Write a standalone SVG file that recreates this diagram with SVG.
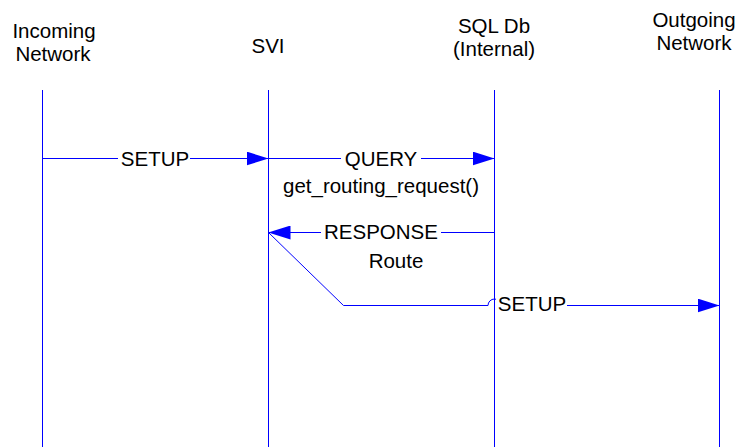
<svg xmlns="http://www.w3.org/2000/svg" width="741" height="447" viewBox="0 0 741 447">
<style>
text{font-family:"Liberation Sans",Arial,sans-serif;font-size:20.5px;fill:#000;text-anchor:middle}
.life{stroke:#0000FF;stroke-width:1;fill:none}
.msg{stroke:#0000FF;stroke-width:1;fill:none}
.bg{fill:#fff}
</style>
<defs>
<marker id="ah" viewBox="0 0 22 14" refX="22" refY="7" markerWidth="22" markerHeight="14" markerUnits="userSpaceOnUse" orient="auto">
<path d="M0,0 L22,7 L0,14 Z" fill="#0000FF"/>
</marker>
</defs>
<g id="incoming">
<text x="54" y="38">Incoming</text>
<text x="53" y="61">Network</text>
<line class="life" x1="42.5" y1="90" x2="42.5" y2="447"/>
</g>
<g id="svi">
<text x="268" y="52.5">SVI</text>
<line class="life" x1="268.5" y1="90" x2="268.5" y2="447"/>
</g>
<g id="sqldb">
<text x="494" y="33">SQL Db</text>
<text x="494" y="56">(Internal)</text>
<line class="life" x1="494.5" y1="90" x2="494.5" y2="447"/>
</g>
<g id="outgoing">
<text x="694" y="27">Outgoing</text>
<text x="694" y="50">Network</text>
<line class="life" x1="719.5" y1="90" x2="719.5" y2="447"/>
</g>
<g id="connectors">
<path class="msg" d="M42.5,158.5 H268.5" marker-end="url(#ah)"/>
<rect class="bg" x="118" y="148" width="72" height="20"/>
<text x="155" y="166">SETUP</text>
<path class="msg" d="M268.5,158.5 H494.5" marker-end="url(#ah)"/>
<rect class="bg" x="341" y="148" width="80" height="20"/>
<text x="381" y="166">QUERY</text>
<text x="381" y="193">get_routing_request()</text>
<path class="msg" d="M494.5,232.5 H268.5" marker-end="url(#ah)"/>
<rect class="bg" x="321" y="222" width="120" height="20"/>
<text x="381" y="239">RESPONSE</text>
<text x="396" y="268">Route</text>
<path class="msg" d="M268.5,232.5 L343.5,305.5 H488 A6.5,6.5 0 0 1 501,305.5 H719.5" marker-end="url(#ah)"/>
<rect class="bg" x="496" y="295" width="71" height="20"/>
<text x="532" y="311">SETUP</text>
</g>
</svg>
